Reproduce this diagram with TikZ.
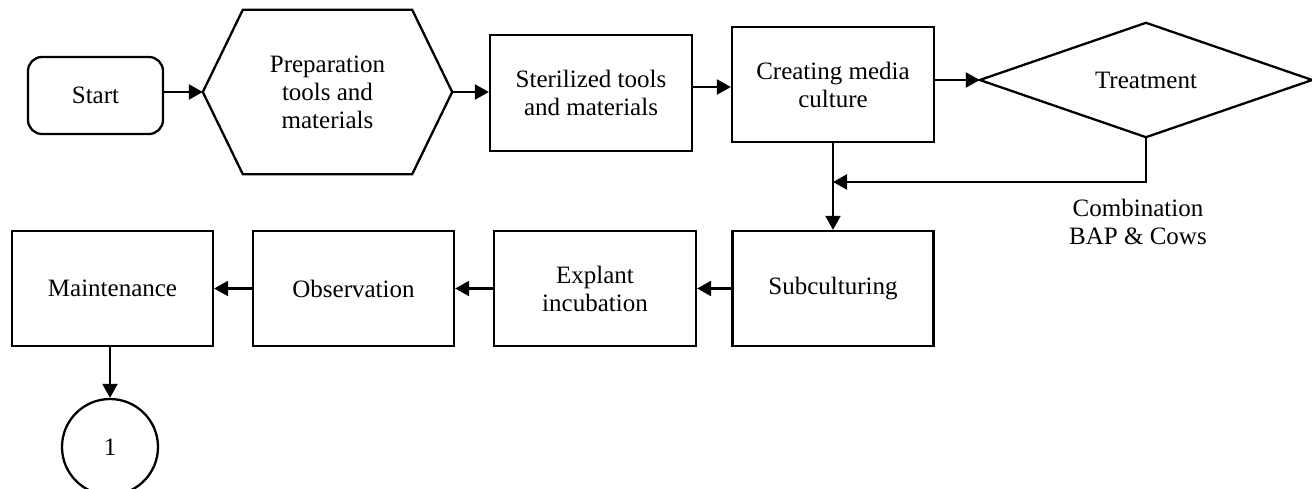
\documentclass[tikz,border=0pt]{standalone}
\usepackage{fontspec}
\setmainfont{Liberation Serif}
\usetikzlibrary{arrows.meta,calc}
\begin{document}
\begin{tikzpicture}[x=1pt,y=-1pt,
  every node/.style={font=\fontsize{25}{28}\selectfont, align=center, inner sep=0pt},
  boxnode/.style={draw, line width=2.3pt, minimum width=#1, minimum height=115pt},
  outline/.style={draw, line width=2.3pt},
  conn/.style={line width=2.3pt, -{Triangle[length=14pt,width=15pt]}}]
\useasboundingbox (0,0) rectangle (1312,489);
\clip (0,0) rectangle (1312,489);

% nodes
\node[draw, line width=2.3pt, rounded corners=14pt, minimum width=135pt, minimum height=77pt] (start) at (95.5,95.5) {Start};
\node[minimum width=249pt, minimum height=164pt] (prep) at (327.5,92) {Preparation\\tools and\\materials};
\draw[outline] (prep.west) -- ([xshift=40pt]prep.north west) -- ([xshift=-40pt]prep.north east) -- (prep.east) -- ([xshift=-40pt]prep.south east) -- ([xshift=40pt]prep.south west) -- cycle;
\node[boxnode=202pt, minimum height=116pt] (ster) at (591,93) {Sterilized tools\\and materials};
\node[boxnode=202pt] (create) at (833,84.5) {Creating media\\culture};
\node[minimum width=332pt, minimum height=114pt] (treat) at (1146,80) {Treatment};
\draw[outline] (treat.west) -- (treat.north) -- (treat.east) -- (treat.south) -- cycle;
\node[boxnode=201pt] (sub) at (833,288.5) {Subculturing};
\node[boxnode=202pt] (expl) at (595,288.5) {Explant\\incubation};
\node[boxnode=201pt] (obs) at (353.5,288.5) {Observation};
\node[boxnode=201pt] (maint) at (112.5,288.5) {Maintenance};
\node[draw, circle, line width=2.3pt, minimum size=96pt] (circ) at (110,447) {1};
\node (lbl) at (1138,222) {Combination\\BAP \& Cows};
\coordinate (join) at (create.south |- 0,182);

% connectors
\draw[conn] (start.east |- prep.west) -- (prep.west);
\draw[conn] (prep.east) -- (prep.east -| ster.west);
\draw[conn] ([yshift=6pt]ster.east) -- ([yshift=6pt]ster.east -| create.west);
\draw[conn] (create.east |- treat.west) -- (treat.west);
\draw[conn] (create.south) -- (sub.north);
\draw[conn] (treat.south) |- (join);
\draw[conn] (sub.west) -- (expl.east);
\draw[conn] (expl.west) -- (obs.east);
\draw[conn] (obs.west) -- (maint.east);
\draw[conn] (maint.south -| circ.north) -- (circ.north);
\end{tikzpicture}
\end{document}
